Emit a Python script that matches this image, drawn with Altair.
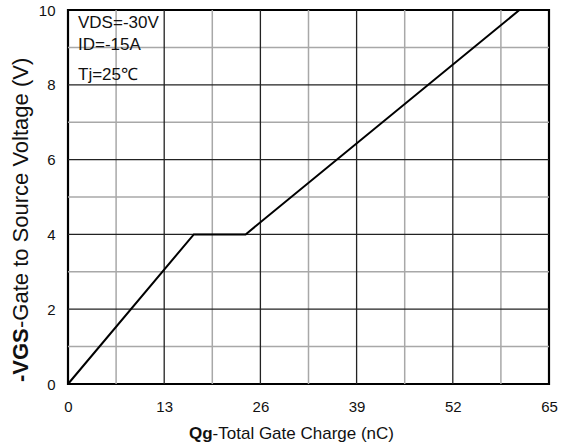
import altair as alt
import pandas as pd

# Curve data
qg = [0, 17, 24, 61]
vgs = [0, 4, 4, 10]

# Axis ticks / grid positions
x_ticks = [0, 13, 26, 39, 52, 65]
y_ticks = [0, 2, 4, 6, 8, 10]
x_minor = [6.5, 19.5, 32.5, 45.5, 58.5]
y_minor = [1, 3, 5, 7, 9]
x_major = [13, 26, 39, 52]
y_major = [2, 4, 6, 8]

notes = ["VDS=-30V", "ID=-15A", "Tj=25℃"]

FONT = "Liberation Sans"

xs = alt.Scale(domain=[0, 65], nice=False, zero=False)
ys = alt.Scale(domain=[0, 10], nice=False, zero=False)

curve_df = pd.DataFrame({"Qg": qg, "VGS": vgs})

x_axis = alt.Axis(values=x_ticks, grid=False, ticks=False, tickSize=0, domain=False,
                  labelFont=FONT, labelFontSize=15, labelColor="#111", labelPadding=15,
                  title=None, labelFlush=False)
y_axis = alt.Axis(values=y_ticks, grid=False, ticks=False, tickSize=0, domain=False,
                  labelFont=FONT, labelFontSize=15, labelColor="#111", labelPadding=13,
                  title=None, labelFlush=False)

MINOR = "#a8a8a8"
minor_v = alt.Chart(pd.DataFrame({"gx": x_minor})).mark_rule(color=MINOR, strokeWidth=1.5).encode(
    x=alt.X("gx:Q", scale=xs, axis=x_axis), y=alt.value(0), y2=alt.value(374))
minor_h = alt.Chart(pd.DataFrame({"gy": y_minor})).mark_rule(color=MINOR, strokeWidth=1.5).encode(
    y=alt.Y("gy:Q", scale=ys, axis=y_axis), x=alt.value(0), x2=alt.value(481))
major_v = alt.Chart(pd.DataFrame({"gx": x_major})).mark_rule(color="#222", strokeWidth=1.3).encode(
    x=alt.X("gx:Q", scale=xs), y=alt.value(0), y2=alt.value(374))
major_h = alt.Chart(pd.DataFrame({"gy": y_major})).mark_rule(color="#222", strokeWidth=1.3).encode(
    y=alt.Y("gy:Q", scale=ys), x=alt.value(0), x2=alt.value(481))

line = alt.Chart(curve_df).mark_line(color="#000", strokeWidth=2).encode(
    x=alt.X("Qg:Q", scale=xs),
    y=alt.Y("VGS:Q", scale=ys),
)

one = pd.DataFrame({"a": [0]})

def txt(text, x, y, size, bold=False, angle=0, align="left"):
    kw = dict(text=text, font=FONT, fontSize=size, color="#111", align=align,
              baseline="alphabetic", fontWeight="bold" if bold else "normal")
    if angle:
        kw["angle"] = angle
    return alt.Chart(one).mark_text(**kw).encode(x=alt.value(x), y=alt.value(y))

note_layers = [txt(notes[0], 10, 18, 17), txt(notes[1], 10, 40, 17), txt(notes[2], 10, 70, 17)]

xt1 = txt("Qg", 121, 429, 17, bold=True)
xt2 = txt("-Total Gate Charge (nC)", 144.6, 429, 17)
yt1 = txt("-VGS", -40, 372, 22, bold=True, angle=270)
yt2 = txt("-Gate to Source Voltage (V)", -40, 318, 22, angle=270)

chart = alt.layer(minor_v, minor_h, major_v, major_h, line, *note_layers, xt1, xt2, yt1, yt2).properties(
    width=481, height=374,
    autosize=alt.AutoSizeParams(type="none"),
    padding={"left": 68, "top": 10, "right": 17, "bottom": 62},
    background="white",
).configure_view(stroke="#000", strokeWidth=2.2)

chart.save("out.html", embed_options={"renderer": "svg", "actions": False})
